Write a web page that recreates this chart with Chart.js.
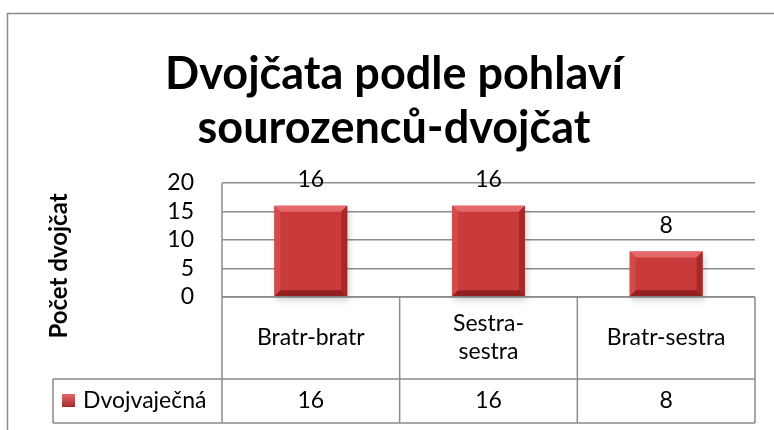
<!DOCTYPE html>
<html>
<head>
<meta charset="utf-8">
<script src="https://cdn.jsdelivr.net/npm/chart.js@4"></script>
<style>
  html, body { margin: 0; padding: 0; background: #fff; }
  #wrap { width: 774px; height: 430px; position: relative; }
</style>
</head>
<body>
<div id="wrap"><canvas id="c" width="774" height="430"></canvas></div>
<script>
const titleLines = ['Dvojčata podle pohlaví', 'sourozenců-dvojčat'];
const categories = ['Bratr-bratr', ['Sestra-', 'sestra'], 'Bratr-sestra'];
const seriesName = 'Dvojvaječná';
const seriesValues = [16, 16, 8];
const yTicks = [0, 5, 10, 15, 20];
const yTitle = 'Počet dvojčat';

const FONT = 'Lato, Calibri, "Open Sans", sans-serif';
const GRID = '#8c8c8c';
const BAR = '#C93B3B';
const TXT = 23;

const bevelPlugin = {
  id: 'bevel',
  beforeDatasetsDraw(chart) {
    const ctx = chart.ctx;
    ctx.save();
    chart.getDatasetMeta(0).data.forEach(b => {
      const l = b.x - b.width / 2, r = b.x + b.width / 2, t = b.y, bt = b.base;
      ctx.fillStyle = 'rgba(0,0,0,0.18)';
      ctx.filter = 'blur(3px)';
      ctx.fillRect(l + 2, t + 4, r - l, bt - t);
      ctx.filter = 'none';
    });
    ctx.restore();
  },
  afterDatasetsDraw(chart) {
    const ctx = chart.ctx;
    ctx.save();
    chart.getDatasetMeta(0).data.forEach(b => {
      const l = b.x - b.width / 2, r = b.x + b.width / 2, t = b.y, bt = b.base;
      const s = 6;
      const poly = (pts, c) => {
        ctx.beginPath();
        ctx.moveTo(pts[0][0], pts[0][1]);
        pts.slice(1).forEach(p => ctx.lineTo(p[0], p[1]));
        ctx.closePath();
        ctx.fillStyle = c;
        ctx.fill();
      };
      poly([[l, t], [r, t], [r - s, t + s], [l + s, t + s]], '#E5686A');
      poly([[l, t], [l + s, t + s], [l + s, bt - s], [l, bt]], '#D24A4A');
      poly([[r, t], [r - s, t + s], [r - s, bt - s], [r, bt]], '#A82828');
      poly([[l, bt], [l + s, bt - s], [r - s, bt - s], [r, bt]], '#922020');
    });
    ctx.restore();
  }
};

const tablePlugin = {
  id: 'dataTable',
  afterDraw(chart) {
    const ctx = chart.ctx;
    const xs = chart.scales.x;
    const ca = chart.chartArea;
    const n = categories.length;
    const half = (xs.getPixelForTick(1) - xs.getPixelForTick(0)) / 2;
    const top = ca.bottom;
    const mid = top + 82;
    const bot = mid + 44;
    const legLeft = 53;
    ctx.save();
    // chart title
    ctx.fillStyle = '#000';
    ctx.font = 'bold 45px ' + FONT;
    ctx.textAlign = 'center';
    ctx.textBaseline = 'middle';
    titleLines.forEach((t, k) => ctx.fillText(t, 394, 74 + k * 54));
    // borders
    ctx.strokeStyle = GRID;
    ctx.lineWidth = 1.5;
    ctx.beginPath();
    ctx.moveTo(7.5, 440);
    ctx.lineTo(7.5, 13.5);
    ctx.lineTo(780, 13.5);
    ctx.stroke();
    ctx.beginPath();
    ctx.moveTo(ca.left, ca.top);
    ctx.lineTo(ca.left, bot);
    for (let i = 0; i < n; i++) {
      const xr = xs.getPixelForTick(i) + half;
      ctx.moveTo(xr, top);
      ctx.lineTo(xr, bot);
    }
    ctx.moveTo(ca.left, top); ctx.lineTo(ca.right, top);
    ctx.moveTo(legLeft, mid); ctx.lineTo(ca.right, mid);
    ctx.moveTo(legLeft, bot); ctx.lineTo(ca.right, bot);
    ctx.moveTo(legLeft, mid); ctx.lineTo(legLeft, bot);
    ctx.stroke();
    ctx.fillStyle = '#000';
    ctx.font = TXT + 'px ' + FONT;
    ctx.textAlign = 'center';
    ctx.textBaseline = 'middle';
    categories.forEach((c, i) => {
      const cx = xs.getPixelForTick(i);
      const lines = Array.isArray(c) ? c : [c];
      const lh = 28;
      const cy = (top + mid) / 2 - (lines.length - 1) * lh / 2;
      lines.forEach((ln, k) => ctx.fillText(ln, cx, cy + k * lh));
      ctx.fillText(String(seriesValues[i]), cx, (mid + bot) / 2);
    });
    const ky = (mid + bot) / 2;
    const g = ctx.createLinearGradient(0, ky - 7, 0, ky + 7);
    g.addColorStop(0, '#E5686A');
    g.addColorStop(1, '#9E2424');
    ctx.fillStyle = g;
    ctx.fillRect(62, ky - 7, 13, 13);
    ctx.fillStyle = '#000';
    ctx.textAlign = 'left';
    ctx.fillText(seriesName, 83, ky);
    ctx.textAlign = 'center';
    chart.getDatasetMeta(0).data.forEach((b, i) => {
      ctx.fillText(String(seriesValues[i]), b.x, b.y - 26);
    });
    // y axis title
    ctx.save();
    ctx.translate(59, (ca.top + ca.bottom) / 2 + 26);
    ctx.rotate(-Math.PI / 2);
    ctx.font = 'bold 24px ' + FONT;
    ctx.textAlign = 'center';
    ctx.textBaseline = 'middle';
    ctx.fillText(yTitle, 0, 0);
    ctx.restore();
    ctx.restore();
  }
};

new Chart(document.getElementById('c'), {
  type: 'bar',
  data: {
    labels: categories,
    datasets: [{
      label: seriesName,
      data: seriesValues,
      backgroundColor: BAR,
      borderWidth: 0,
      categoryPercentage: 1,
      barPercentage: 0.41
    }]
  },
  options: {
    responsive: false,
    animation: false,
    layout: { padding: { top: 183, left: 0, right: 19, bottom: 133 } },
    plugins: {
      legend: { display: false },
      tooltip: { enabled: false },
      title: { display: false }
    },
    scales: {
      x: {
        display: true,
        offset: true,
        grid: { display: false, drawTicks: false },
        border: { display: false },
        ticks: { display: false }
      },
      y: {
        min: 0, max: 20,
        afterFit(scale) { scale.width = 222; },
        afterBuildTicks(scale) { scale.ticks = yTicks.map(v => ({ value: v })); },
        grid: { color: GRID, lineWidth: 1.5, drawTicks: false },
        border: { display: false },
        ticks: { color: '#000', padding: 28, autoSkip: false, font: { family: FONT, size: TXT } },
        title: { display: false, text: yTitle }
      }
    }
  },
  plugins: [bevelPlugin, tablePlugin]
});
</script>
</body>
</html>
